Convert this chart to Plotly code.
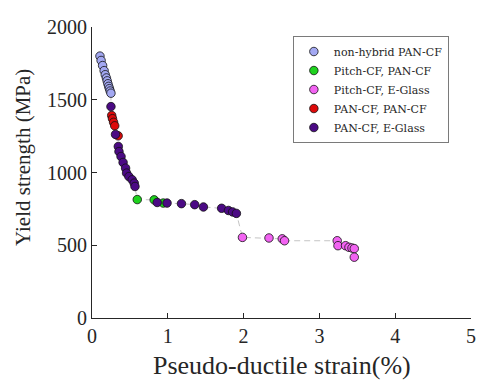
import plotly.graph_objects as go

# ---- data (strain %, yield strength MPa) ----
nonhyb_x = [0.105, 0.12, 0.14, 0.16, 0.175, 0.19, 0.20, 0.21, 0.22, 0.23, 0.24, 0.25]
nonhyb_y = [1800, 1770, 1735, 1700, 1672, 1650, 1630, 1610, 1592, 1576, 1560, 1545]

pitch_pan_x = [0.597, 0.82, 0.94]
pitch_pan_y = [814, 812, 790]

pitch_glass_x = [1.985, 2.335, 2.51, 2.54, 3.235, 3.245, 3.345, 3.39, 3.43, 3.46, 3.46]
pitch_glass_y = [554, 550, 544, 531, 531, 497, 497, 486, 481, 477, 418]

pan_pan_x = [0.26, 0.27, 0.285, 0.30, 0.345]
pan_pan_y = [1392, 1370, 1345, 1321, 1252]

pan_glass_x = [0.25, 0.31, 0.347, 0.356, 0.383, 0.41, 0.443, 0.456, 0.487, 0.53, 0.557, 0.567,
               0.86, 0.99, 1.18, 1.355, 1.47, 1.71, 1.80, 1.855, 1.905]
pan_glass_y = [1453, 1262, 1179, 1144, 1110, 1069, 1030, 996, 972, 950, 927, 904,
               794, 790, 786, 779, 763, 754, 739, 729, 719]

names = ["non-hybrid PAN-CF", "Pitch-CF, PAN-CF", "Pitch-CF, E-Glass", "PAN-CF, PAN-CF", "PAN-CF, E-Glass"]
colors = ["#a3a8f2", "#1ed21e", "#f263f2", "#dd0a0a", "#4b0a84"]
series = [(nonhyb_x, nonhyb_y), (pitch_pan_x, pitch_pan_y), (pitch_glass_x, pitch_glass_y),
          (pan_pan_x, pan_pan_y), (pan_glass_x, pan_glass_y)]

x_title = "Pseudo-ductile strain(%)"
y_title = "Yield strength (MPa)"

# connecting line through all points ordered by strength
allpts = []
for xs, ys in series:
    allpts += list(zip(xs, ys))
allpts.sort(key=lambda p: -p[1])

FONT = "'Liberation Serif', 'Times New Roman', serif"
LFONT = "'DejaVu Serif', serif"
TXT = "#262626"

fig = go.Figure()
fig.add_trace(go.Scatter(x=[p[0] for p in allpts], y=[p[1] for p in allpts], mode="lines",
                         line=dict(color="#c4c4c4", width=1, dash="6px,4px"),
                         showlegend=False, hoverinfo="skip"))
for (xs, ys), n, c in zip(series, names, colors):
    fig.add_trace(go.Scatter(x=xs, y=ys, mode="markers", name=n,
                             marker=dict(size=8.5, color=c, line=dict(color="#111111", width=0.8))))

fig.update_layout(
    width=477, height=387,
    margin=dict(l=92, r=6, t=27, b=69, autoexpand=False),
    paper_bgcolor="white", plot_bgcolor="white",
    font=dict(family=FONT, color=TXT),
    legend=dict(x=0.53, y=0.969, xanchor="left", yanchor="top",
                bordercolor="#7a7a7a", borderwidth=1, bgcolor="white",
                font=dict(family=LFONT, size=11, color=TXT),
                tracegroupgap=0, itemwidth=30, entrywidth=165, entrywidthmode="pixels"),
    showlegend=True,
    annotations=[
        dict(text=x_title, xref="paper", yref="paper", x=0.5, y=-47 / 291, xanchor="center",
             yanchor="middle", showarrow=False, font=dict(family=FONT, size=26, color=TXT)),
        dict(text=y_title, xref="paper", yref="paper", x=-69 / 379, y=(318 - 158) / 291,
             xanchor="center", yanchor="middle", textangle=-90, showarrow=False,
             font=dict(family=FONT, size=21, color=TXT)),
    ],
)
fig.update_xaxes(range=[0, 5], tickvals=[0, 1, 2, 3, 4, 5], ticks="inside", ticklen=5,
                 tickcolor=TXT, showline=True, linecolor=TXT, linewidth=1,
                 showgrid=False, zeroline=False, tickfont=dict(size=20), automargin=False)
fig.update_yaxes(range=[0, 2000], tickvals=[0, 500, 1000, 1500, 2000], ticks="inside", ticklen=5,
                 tickcolor=TXT, showline=True, linecolor=TXT, linewidth=1,
                 showgrid=False, zeroline=False, tickfont=dict(size=20), automargin=False)

fig.write_html("out.html")
